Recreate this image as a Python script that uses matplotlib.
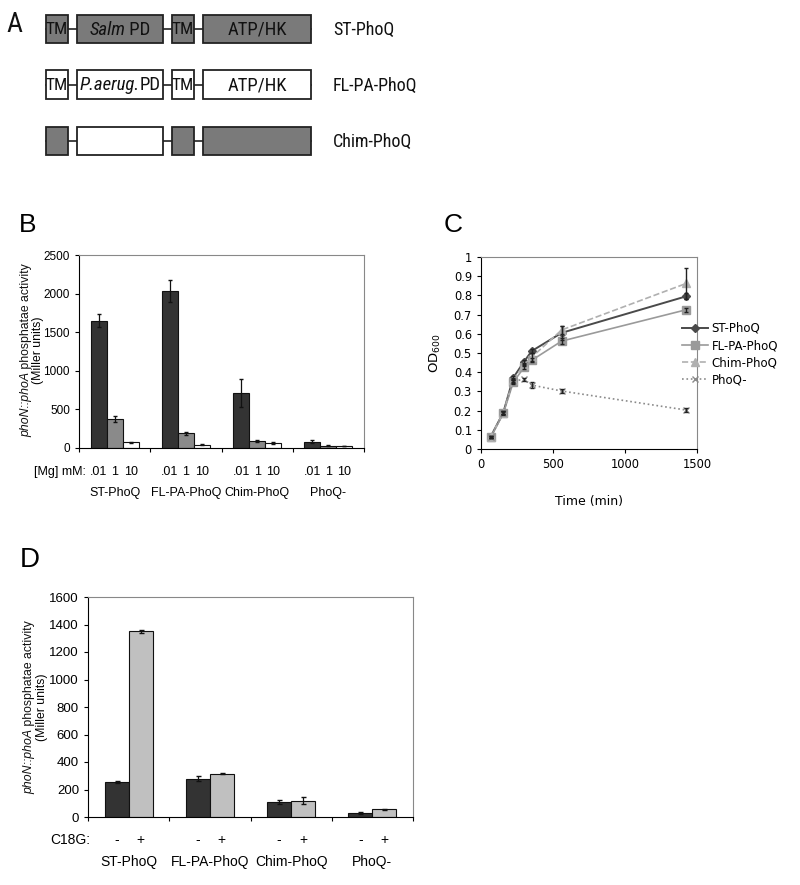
import matplotlib
matplotlib.use("Agg")
import matplotlib.pyplot as plt
from matplotlib.patches import Rectangle
from matplotlib.lines import Line2D
from matplotlib import font_manager
import numpy as np

plt.rcParams['font.family'] = ['Liberation Sans', 'DejaVu Sans']

_names = {f.name for f in font_manager.fontManager.ttflist}
NARROW = ['Liberation Sans', 'DejaVu Sans']
NSCALE = 0.88
for cand in ['Liberation Sans Narrow', 'Arial Narrow', 'Roboto Condensed']:
    if cand in _names:
        NARROW = [cand, 'Liberation Sans']
        NSCALE = 1.0
        break

# ---------------- Data ----------------
# Panel A: domain architecture (True = Salmonella domain (gray), False = P. aeruginosa (white))
constructs = ["ST-PhoQ", "FL-PA-PhoQ", "Chim-PhoQ"]
domain_names = ["TM", "PD", "TM", "ATP/HK"]
domain_fill = [[True, True, True, True],
               [False, False, False, False],
               [True, False, True, True]]
domain_text = [[[("TM", "normal")], [("Salm", "italic"), (" PD", "normal")],
                [("TM", "normal")], [("ATP/HK", "normal")]],
               [[("TM", "normal")], [("P.aerug.", "italic"), ("PD", "normal")],
                [("TM", "normal")], [("ATP/HK", "normal")]],
               [[], [], [], []]]

# Panel B
strains = ["ST-PhoQ", "FL-PA-PhoQ", "Chim-PhoQ", "PhoQ-"]
mg_levels = [".01", "1", "10"]
b_vals = {".01": [1650, 2030, 715, 80],
          "1": [380, 190, 90, 30],
          "10": [75, 45, 70, 25]}
b_err = {".01": [80, 140, 185, 20],
         "1": [40, 20, 10, 5],
         "10": [8, 6, 12, 5]}
b_colors = {".01": "#333333", "1": "#8a8a8a", "10": "#ffffff"}

# Panel C
time_min = [67, 155, 224, 299, 352, 560, 1424]
od_st = [0.064, 0.19, 0.371, 0.455, 0.510, 0.605, 0.795]
od_st_err = [0.005, 0.01, 0.01, 0.01, 0.01, 0.035, 0.015]
od_fl = [0.060, 0.185, 0.348, 0.425, 0.462, 0.562, 0.725]
od_fl_err = [0.005, 0.01, 0.01, 0.01, 0.01, 0.015, 0.01]
od_chim = [0.062, 0.19, 0.36, 0.44, 0.478, 0.62, 0.862]
od_chim_err = [0.005, 0.01, 0.01, 0.01, 0.02, 0.02, 0.08]
time_neg = [67, 155, 224, 299, 352, 560, 1424]
od_neg = [0.062, 0.19, 0.355, 0.362, 0.333, 0.302, 0.203]
od_neg_err = [0.005, 0.01, 0.01, 0.01, 0.015, 0.01, 0.01]

# Panel D
c18g = ["-", "+"]
d_vals = {"-": [255, 280, 110, 30], "+": [1350, 315, 120, 55]}
d_err = {"-": [8, 20, 12, 10], "+": [12, 4, 25, 4]}
d_colors = {"-": "#333333", "+": "#c0c0c0"}

ylabel_parts = [("phoN::phoA", "italic"), (" phosphatae activity", "normal")]

# ---------------- Figure ----------------
W, H = 800, 885
fig = plt.figure(figsize=(W / 100, H / 100), dpi=100)
renderer = fig.canvas.get_renderer()

# overlay axes in pixel coordinates (y downward)
axO = fig.add_axes([0, 0, 1, 1], zorder=-1)
axO.set_xlim(0, W)
axO.set_ylim(H, 0)
axO.axis("off")


def mixed(xc, yc, parts, size, family, rotation=0, color="#111111", zorder=3):
    widths = []
    for s, st in parts:
        t = axO.text(0, 0, s, fontsize=size, style=st, family=family)
        widths.append(t.get_window_extent(renderer).width)
        t.remove()
    total = sum(widths)
    pos = 0.0
    for (s, st), w in zip(parts, widths):
        if rotation == 0:
            axO.text(xc - total / 2 + pos, yc, s, fontsize=size, style=st,
                     family=family, ha="left", va="center", color=color,
                     zorder=zorder)
        else:
            axO.text(xc, yc + total / 2 - pos, s, fontsize=size, style=st,
                     family=family, ha="left", va="center", rotation=90,
                     rotation_mode="anchor", color=color, zorder=zorder)
        pos += w


# ---- Panel A ----
dom_x = [(46, 68), (77, 163), (172, 194), (203, 311)]
rows_y = [(15, 43), (70, 99), (127, 155)]
for r, (y0, y1) in enumerate(rows_y):
    yc = (y0 + y1) / 2
    axO.plot([dom_x[0][0], dom_x[-1][1]], [yc, yc], color="#222222", lw=1.2, zorder=1)
    for d, (x0, x1) in enumerate(dom_x):
        fc = "#7a7a7a" if domain_fill[r][d] else "white"
        axO.add_patch(Rectangle((x0, y0), x1 - x0, y1 - y0, facecolor=fc,
                                edgecolor="#222222", lw=1.3, zorder=2))
        if domain_text[r][d]:
            fs = (12.5 if domain_names[d] == "TM" else 13.5) * NSCALE
            mixed((x0 + x1) / 2, yc + 1, domain_text[r][d], fs, NARROW)
    axO.text(333, yc + 1, constructs[r], ha="left", va="center",
             fontsize=13 * NSCALE, family=NARROW, color="#111111")
axO.text(14, 24, "A", ha="center", va="center", fontsize=20, color="#111111",
         family=NARROW)

# ---- Panel B ----
axB = fig.add_axes([79 / W, 1 - 448 / H, 285 / W, 193 / H])
x = np.arange(len(strains))
bw = 0.225
for i, m in enumerate(mg_levels):
    xpos = x + (i - 1) * bw
    axB.bar(xpos, b_vals[m], width=bw, color=b_colors[m], edgecolor="#111111",
            lw=0.8, zorder=2)
    axB.errorbar(xpos, b_vals[m], yerr=b_err[m], fmt="none", ecolor="#111111",
                 elinewidth=0.9, capsize=1.5, zorder=3)
    for xp in xpos:
        axB.text(xp, -0.124, m, transform=axB.get_xaxis_transform(), ha="center",
                 va="center", fontsize=9)
axB.text(-0.40, -0.124, "[Mg] mM:", transform=axB.get_xaxis_transform(),
         ha="right", va="center", fontsize=9)
for xi, s in zip(x, strains):
    axB.text(xi, -0.233, s, transform=axB.get_xaxis_transform(), ha="center",
             va="center", fontsize=9)
axB.set_xlim(-0.5, 3.5)
axB.set_ylim(0, 2500)
axB.set_yticks(np.arange(0, 2501, 500))
axB.set_xticks(np.arange(-0.5, 3.6, 1))
axB.set_xticklabels([])
axB.tick_params(axis="both", direction="out", length=3, width=0.8, labelsize=8.5)
for sp in ["top", "right"]:
    axB.spines[sp].set_color("#888888")
mixed(26, 350, ylabel_parts, 8.8, ['Liberation Sans'], rotation=90)
axO.text(38, 350, "(Miller units)", rotation=90, ha="center", va="center",
         fontsize=8.8)
axO.text(28, 225, "B", ha="center", va="center", fontsize=19)

# ---- Panel C ----
axC = fig.add_axes([481 / W, 1 - 449 / H, 216 / W, 192 / H])
series = [
    (time_min, od_st, od_st_err, "ST-PhoQ", "#4a4a4a", "-", "D", 4, 1.4),
    (time_min, od_fl, od_fl_err, "FL-PA-PhoQ", "#9a9a9a", "-", "s", 6, 1.2),
    (time_min, od_chim, od_chim_err, "Chim-PhoQ", "#b0b0b0", "--", "^", 6, 1.2),
    (time_neg, od_neg, od_neg_err, "PhoQ-", "#8a8a8a", ":", "x", 5, 1.2),
]
handles = []
for t, v, e, lab, col, ls, mk, ms, lw in series:
    axC.errorbar(t, v, yerr=e, fmt="none", ecolor="#222222", elinewidth=1.0,
                 capsize=1.5, zorder=4)
    axC.plot(t, v, color=col, ls=ls, marker=mk, ms=ms, lw=lw, mec=col, mfc=col,
             zorder=3)
    handles.append(Line2D([], [], color=col, ls=ls, marker=mk, ms=ms, lw=lw,
                          mec=col, mfc=col, label=lab))
axC.set_xlim(0, 1500)
axC.set_ylim(0, 1)
axC.set_xticks([0, 500, 1000, 1500])
axC.set_yticks(np.round(np.arange(0, 1.01, 0.1), 1))
axC.set_yticklabels(["0"] + [f"{v:.1f}" for v in np.arange(0.1, 0.95, 0.1)] + ["1"])
axC.tick_params(axis="both", direction="out", length=3, width=0.8)
for lbl in axC.get_xticklabels() + axC.get_yticklabels():
    lbl.set_fontfamily("DejaVu Sans")
    lbl.set_fontsize(8.3)
for sp in ["top", "right"]:
    axC.spines[sp].set_color("#888888")
axC.text(0.5, -0.276, "Time (min)", transform=axC.transAxes, ha="center",
         va="center", fontsize=9, family="DejaVu Sans")
axC.text(-0.213, 0.5, r"OD$_{600}$", transform=axC.transAxes, ha="center",
         va="center", rotation=90, fontsize=9.5, family="DejaVu Sans")
fig.legend(handles=handles, loc="upper left",
           bbox_to_anchor=(676 / W, 1 - 316 / H), frameon=False,
           prop={"family": "DejaVu Sans", "size": 8.5}, handlelength=2.2,
           handletextpad=0.3, labelspacing=0.35, borderpad=0)
axO.text(453, 225, "C", ha="center", va="center", fontsize=19)

# ---- Panel D ----
axD = fig.add_axes([88 / W, 1 - 817 / H, 325 / W, 220 / H])
bwD = 0.295
for i, c in enumerate(c18g):
    xpos = x + (i - 0.5) * bwD
    axD.bar(xpos, d_vals[c], width=bwD, color=d_colors[c], edgecolor="#111111",
            lw=0.8, zorder=2)
    axD.errorbar(xpos, d_vals[c], yerr=d_err[c], fmt="none", ecolor="#111111",
                 elinewidth=0.9, capsize=1.8, zorder=3)
    for xp in xpos:
        axD.text(xp, -0.105, c, transform=axD.get_xaxis_transform(), ha="center",
                 va="center", fontsize=10)
axD.text(-0.47, -0.105, "C18G:", transform=axD.get_xaxis_transform(),
         ha="right", va="center", fontsize=10)
for xi, s in zip(x, strains):
    axD.text(xi, -0.205, s, transform=axD.get_xaxis_transform(), ha="center",
             va="center", fontsize=10)
axD.set_xlim(-0.5, 3.5)
axD.set_ylim(0, 1600)
axD.set_yticks(np.arange(0, 1601, 200))
axD.set_xticks(np.arange(-0.5, 3.6, 1))
axD.set_xticklabels([])
axD.tick_params(axis="both", direction="out", length=3, width=0.8, labelsize=9.5)
for sp in ["top", "right"]:
    axD.spines[sp].set_color("#888888")
mixed(29, 707, ylabel_parts, 8.8, ['Liberation Sans'], rotation=90)
axO.text(42, 707, "(Miller units)", rotation=90, ha="center", va="center",
         fontsize=8.8)
axO.text(30, 560, "D", ha="center", va="center", fontsize=20)

fig.savefig("out.png", dpi=100)
